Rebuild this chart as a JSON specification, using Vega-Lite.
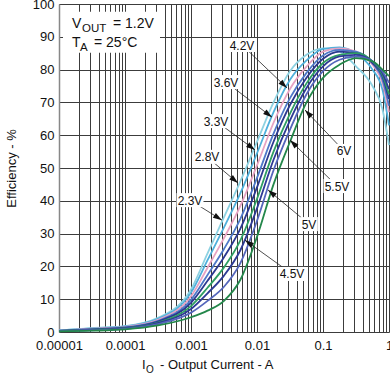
{
  "$schema": "https://vega.github.io/schema/vega-lite/v6.json",
  "width": 330,
  "height": 328,
  "autosize": {"type": "none"},
  "padding": {"left": 59, "top": 4, "right": 1, "bottom": 45},
  "background": "white",
  "config": {
    "font": "Liberation Sans",
    "view": {"stroke": null},
    "axis": {"labelFont": "Liberation Sans", "titleFont": "Liberation Sans"}
  },
  "datasets": {
    "curves": [
      {"v":"2.3V","i":0.00001,"e":0.5},{"v":"2.3V","i":0.0000316,"e":1.2},{"v":"2.3V","i":0.0001,"e":1.8},{"v":"2.3V","i":0.000316,"e":4.3},{"v":"2.3V","i":0.001,"e":13},{"v":"2.3V","i":0.00178,"e":24},{"v":"2.3V","i":0.00316,"e":35},{"v":"2.3V","i":0.00562,"e":46},{"v":"2.3V","i":0.01,"e":58},{"v":"2.3V","i":0.0178,"e":70},{"v":"2.3V","i":0.0316,"e":79.5},{"v":"2.3V","i":0.0562,"e":84.5},{"v":"2.3V","i":0.1,"e":86.5},{"v":"2.3V","i":0.178,"e":85.5},{"v":"2.3V","i":0.316,"e":81},{"v":"2.3V","i":0.562,"e":75},{"v":"2.3V","i":0.794,"e":68},{"v":"2.3V","i":1,"e":57},
      {"v":"2.8V","i":0.00001,"e":0.46},{"v":"2.8V","i":0.0000316,"e":1.1},{"v":"2.8V","i":0.0001,"e":1.7},{"v":"2.8V","i":0.000316,"e":4.0},{"v":"2.8V","i":0.001,"e":12},{"v":"2.8V","i":0.00178,"e":21.9},{"v":"2.8V","i":0.00316,"e":31.9},{"v":"2.8V","i":0.00562,"e":42.4},{"v":"2.8V","i":0.01,"e":54.5},{"v":"2.8V","i":0.0178,"e":67},{"v":"2.8V","i":0.0316,"e":76.9},{"v":"2.8V","i":0.0562,"e":82.8},{"v":"2.8V","i":0.1,"e":86.3},{"v":"2.8V","i":0.178,"e":86.8},{"v":"2.8V","i":0.316,"e":85},{"v":"2.8V","i":0.562,"e":80},{"v":"2.8V","i":0.794,"e":74},{"v":"2.8V","i":1,"e":63},
      {"v":"3.3V","i":0.00001,"e":0.42},{"v":"3.3V","i":0.0000316,"e":1.0},{"v":"3.3V","i":0.0001,"e":1.55},{"v":"3.3V","i":0.000316,"e":3.7},{"v":"3.3V","i":0.001,"e":10.9},{"v":"3.3V","i":0.00178,"e":19.6},{"v":"3.3V","i":0.00316,"e":28.6},{"v":"3.3V","i":0.00562,"e":38.5},{"v":"3.3V","i":0.01,"e":50.8},{"v":"3.3V","i":0.0178,"e":63.8},{"v":"3.3V","i":0.0316,"e":74.1},{"v":"3.3V","i":0.0562,"e":80.9},{"v":"3.3V","i":0.1,"e":85.5},{"v":"3.3V","i":0.178,"e":86.5},{"v":"3.3V","i":0.316,"e":85.5},{"v":"3.3V","i":0.562,"e":81.5},{"v":"3.3V","i":0.794,"e":76},{"v":"3.3V","i":1,"e":67},
      {"v":"3.6V","i":0.00001,"e":0.39},{"v":"3.6V","i":0.0000316,"e":0.9},{"v":"3.6V","i":0.0001,"e":1.4},{"v":"3.6V","i":0.000316,"e":3.4},{"v":"3.6V","i":0.001,"e":9.8},{"v":"3.6V","i":0.00178,"e":17.4},{"v":"3.6V","i":0.00316,"e":25.3},{"v":"3.6V","i":0.00562,"e":34.6},{"v":"3.6V","i":0.01,"e":47},{"v":"3.6V","i":0.0178,"e":60.5},{"v":"3.6V","i":0.0316,"e":71.3},{"v":"3.6V","i":0.0562,"e":79},{"v":"3.6V","i":0.1,"e":84.3},{"v":"3.6V","i":0.178,"e":86},{"v":"3.6V","i":0.316,"e":85.5},{"v":"3.6V","i":0.562,"e":82},{"v":"3.6V","i":0.794,"e":77},{"v":"3.6V","i":1,"e":69},
      {"v":"4.2V","i":0.00001,"e":0.36},{"v":"4.2V","i":0.0000316,"e":0.8},{"v":"4.2V","i":0.0001,"e":1.3},{"v":"4.2V","i":0.000316,"e":3.2},{"v":"4.2V","i":0.001,"e":8.9},{"v":"4.2V","i":0.00178,"e":15.6},{"v":"4.2V","i":0.00316,"e":22.8},{"v":"4.2V","i":0.00562,"e":31.6},{"v":"4.2V","i":0.01,"e":44.1},{"v":"4.2V","i":0.0178,"e":58},{"v":"4.2V","i":0.0316,"e":69.2},{"v":"4.2V","i":0.0562,"e":77.5},{"v":"4.2V","i":0.1,"e":83.3},{"v":"4.2V","i":0.178,"e":85.5},{"v":"4.2V","i":0.316,"e":85},{"v":"4.2V","i":0.562,"e":82},{"v":"4.2V","i":0.794,"e":78},{"v":"4.2V","i":1,"e":71},
      {"v":"4.5V","i":0.00001,"e":0.32},{"v":"4.5V","i":0.0000316,"e":0.7},{"v":"4.5V","i":0.0001,"e":1.2},{"v":"4.5V","i":0.000316,"e":2.9},{"v":"4.5V","i":0.001,"e":7.9},{"v":"4.5V","i":0.00178,"e":13.5},{"v":"4.5V","i":0.00316,"e":19.7},{"v":"4.5V","i":0.00562,"e":28},{"v":"4.5V","i":0.01,"e":40.6},{"v":"4.5V","i":0.0178,"e":55},{"v":"4.5V","i":0.0316,"e":66.6},{"v":"4.5V","i":0.0562,"e":75.8},{"v":"4.5V","i":0.1,"e":82},{"v":"4.5V","i":0.178,"e":84.5},{"v":"4.5V","i":0.316,"e":85},{"v":"4.5V","i":0.562,"e":82.5},{"v":"4.5V","i":0.794,"e":78.5},{"v":"4.5V","i":1,"e":72.5},
      {"v":"5V","i":0.00001,"e":0.29},{"v":"5V","i":0.0000316,"e":0.64},{"v":"5V","i":0.0001,"e":1.1},{"v":"5V","i":0.000316,"e":2.7},{"v":"5V","i":0.001,"e":7.0},{"v":"5V","i":0.00178,"e":11.8},{"v":"5V","i":0.00316,"e":17.2},{"v":"5V","i":0.00562,"e":25},{"v":"5V","i":0.01,"e":37.7},{"v":"5V","i":0.0178,"e":52.5},{"v":"5V","i":0.0316,"e":64.5},{"v":"5V","i":0.0562,"e":74.4},{"v":"5V","i":0.1,"e":81},{"v":"5V","i":0.178,"e":84},{"v":"5V","i":0.316,"e":84.5},{"v":"5V","i":0.562,"e":82.5},{"v":"5V","i":0.794,"e":79},{"v":"5V","i":1,"e":74},
      {"v":"5.5V","i":0.00001,"e":0.25},{"v":"5.5V","i":0.0000316,"e":0.54},{"v":"5.5V","i":0.0001,"e":0.97},{"v":"5.5V","i":0.000316,"e":2.4},{"v":"5.5V","i":0.001,"e":5.9},{"v":"5.5V","i":0.00178,"e":9.5},{"v":"5.5V","i":0.00316,"e":13.8},{"v":"5.5V","i":0.00562,"e":21.1},{"v":"5.5V","i":0.01,"e":33.9},{"v":"5.5V","i":0.0178,"e":49.3},{"v":"5.5V","i":0.0316,"e":61.7},{"v":"5.5V","i":0.0562,"e":72.5},{"v":"5.5V","i":0.1,"e":79.5},{"v":"5.5V","i":0.178,"e":83},{"v":"5.5V","i":0.316,"e":84},{"v":"5.5V","i":0.562,"e":82.5},{"v":"5.5V","i":0.794,"e":79.5},{"v":"5.5V","i":1,"e":76},
      {"v":"6V","i":0.00001,"e":0.2},{"v":"6V","i":0.0000316,"e":0.4},{"v":"6V","i":0.0001,"e":0.8},{"v":"6V","i":0.000316,"e":2.0},{"v":"6V","i":0.001,"e":4.5},{"v":"6V","i":0.00178,"e":6.5},{"v":"6V","i":0.00316,"e":9.5},{"v":"6V","i":0.00562,"e":16},{"v":"6V","i":0.01,"e":29},{"v":"6V","i":0.0178,"e":45},{"v":"6V","i":0.0316,"e":58},{"v":"6V","i":0.0562,"e":70},{"v":"6V","i":0.1,"e":77.5},{"v":"6V","i":0.178,"e":81.5},{"v":"6V","i":0.316,"e":83.5},{"v":"6V","i":0.562,"e":82.5},{"v":"6V","i":0.794,"e":80},{"v":"6V","i":1,"e":78}
    ],
    "labels": [
      {"t":"4.2V","x":0.00593,"y":87.5,"x2":0.0285,"y2":74.4},
      {"t":"3.6V","x":0.00339,"y":76.2,"x2":0.01687,"y2":65.5},
      {"t":"3.3V","x":0.00239,"y":64.3,"x2":0.00933,"y2":55.5},
      {"t":"2.8V","x":0.001746,"y":53.4,"x2":0.00515,"y2":45.4},
      {"t":"2.3V","x":0.000966,"y":40.2,"x2":0.00295,"y2":34.1},
      {"t":"6V","x":0.208,"y":55.2,"x2":0.0533,"y2":67.7},
      {"t":"5.5V","x":0.163,"y":44.5,"x2":0.0316,"y2":58.5},
      {"t":"5V","x":0.0614,"y":32.9,"x2":0.0147,"y2":43.3},
      {"t":"4.5V","x":0.0339,"y":17.7,"x2":0.00658,"y2":28.0}
    ],
    "notebox": [
      {"x":0.0000115,"x2":0.000339,"y":97.6,"y2":85.1}
    ],
    "texts": [
      {"t":"V","x":0.00001574,"y":92.68,"role":"main","group":"note"},
      {"t":"OUT","x":0.0000223,"y":91.46,"role":"sub","group":"note"},
      {"t":"= 1.2V","x":0.0000658,"y":92.68,"role":"main","group":"note"},
      {"t":"T","x":0.00001574,"y":86.89,"role":"main","group":"note"},
      {"t":"A","x":0.0000208,"y":85.82,"role":"sub","group":"note"},
      {"t":"= 25°C","x":0.0000339,"y":86.89,"role":"main","group":"note"},
      {"t":"I","x":0.000181,"y":-11.28,"role":"main","group":"axis"},
      {"t":"O","x":0.000208,"y":-12.5,"role":"sub","group":"axis"},
      {"t":"- Output Current - A","x":0.000339,"y":-11.28,"role":"main","group":"axis"}
    ]
  },
  "encoding": {
    "x": {"type": "quantitative", "scale": {"type": "log", "domain": [0.00001, 1], "nice": false},
      "axis": {
        "values": [0.00001,0.00002,0.00003,0.00004,0.00005,0.00006,0.00007,0.00008,0.00009,0.0001,0.0002,0.0003,0.0004,0.0005,0.0006,0.0007,0.0008,0.0009,0.001,0.002,0.003,0.004,0.005,0.006,0.007,0.008,0.009,0.01,0.02,0.03,0.04,0.05,0.06,0.07,0.08,0.09,0.1,0.2,0.3,0.4,0.5,0.6,0.7,0.8,0.9,1],
        "format": ".5~f",
        "labelExpr": "(datum.value==0.00001||datum.value==0.0001||datum.value==0.001||datum.value==0.01||datum.value==0.1||datum.value==1) ? datum.label : ''",
        "grid": true, "gridColor": "#3c3c3c", "gridWidth": 1, "gridOpacity": 1,
        "domain": false, "ticks": false, "tickSize": 0,
        "labelPadding": 7, "labelFontSize": 13, "labelColor": "#111", "labelOverlap": false, "labelFlush": false,
        "title": null
      }},
    "y": {"type": "quantitative", "scale": {"domain": [0, 100], "nice": false},
      "axis": {
        "values": [0,10,20,30,40,50,60,70,80,90,100],
        "grid": true, "gridColor": "#3c3c3c", "gridWidth": 1,
        "domain": true, "domainColor": "#888", "domainWidth": 1.5,
        "ticks": false, "tickSize": 0, "labelPadding": 5, "labelOverlap": false, "labelFlush": false,
        "labelFontSize": 13, "labelColor": "#111",
        "title": "Efficiency - %", "titleFontSize": 13, "titleFontWeight": "normal", "titleColor": "#111", "titlePadding": 14
      }}
  },
  "layer": [
    {
      "data": {"name": "notebox"},
      "mark": {"type": "rect", "fill": "white", "stroke": null},
      "encoding": {
        "x": {"field": "x", "type": "quantitative"},
        "x2": {"field": "x2"},
        "y": {"field": "y", "type": "quantitative"},
        "y2": {"field": "y2"}
      }
    },
    {
      "data": {"name": "curves"},
      "mark": {"type": "line", "strokeWidth": 1.8, "interpolate": "monotone"},
      "encoding": {
        "x": {"field": "i", "type": "quantitative"},
        "y": {"field": "e", "type": "quantitative"},
        "color": {"field": "v", "type": "nominal", "legend": null,
          "scale": {"domain": ["2.3V","2.8V","3.3V","3.6V","4.2V","4.5V","5V","5.5V","6V"],
                    "range": ["#8ed2e2","#4fb0dc","#e6a3c3","#4f78c8","#2b3990","#2f9e63","#2d3a94","#5566bb","#23874a"]}}
      }
    },
    {
      "data": {"name": "labels"},
      "mark": {"type": "rule", "color": "#222", "strokeWidth": 0.8},
      "encoding": {
        "x": {"field": "x", "type": "quantitative"},
        "y": {"field": "y", "type": "quantitative"},
        "x2": {"field": "x2"},
        "y2": {"field": "y2"}
      }
    },
    {
      "data": {"name": "labels"},
      "mark": {"type": "point", "filled": true, "color": "white", "opacity": 1, "strokeWidth": 0},
      "encoding": {
        "x": {"field": "x", "type": "quantitative"},
        "y": {"field": "y", "type": "quantitative"},
        "shape": {"condition": {"test": "length(datum.t) < 3", "value": "M-0.65,-0.52H0.65V0.52H-0.65Z"}, "value": "M-1,-0.52H1V0.52H-1Z"},
        "size": {"value": 729}
      }
    },
    {
      "data": {"name": "labels"},
      "mark": {"type": "text", "fontSize": 12, "color": "#111", "align": "center", "baseline": "middle", "dy": 0.5},
      "encoding": {
        "x": {"field": "x", "type": "quantitative"},
        "y": {"field": "y", "type": "quantitative"},
        "text": {"field": "t"}
      }
    },
    {
      "data": {"name": "labels"},
      "transform": [
        {"calculate": "atan2(66*(log(datum.x2)-log(datum.x))/LN10, 3.28*(datum.y2-datum.y))*180/PI", "as": "ang"}
      ],
      "mark": {"type": "point", "filled": true, "color": "#111", "opacity": 1, "shape": "M0,0L-0.6,1.9L0.6,1.9Z", "size": 90},
      "encoding": {
        "x": {"field": "x2", "type": "quantitative"},
        "y": {"field": "y2", "type": "quantitative"},
        "angle": {"field": "ang", "type": "quantitative", "scale": null}
      }
    },
    {
      "data": {"name": "texts"},
      "transform": [{"filter": "datum.group == 'note' && datum.role == 'main'"}],
      "mark": {"type": "text", "fontSize": 14, "color": "#111", "align": "left", "baseline": "alphabetic"},
      "encoding": {
        "x": {"field": "x", "type": "quantitative"},
        "y": {"field": "y", "type": "quantitative"},
        "text": {"field": "t"}
      }
    },
    {
      "data": {"name": "texts"},
      "transform": [{"filter": "datum.group == 'note' && datum.role == 'sub'"}],
      "mark": {"type": "text", "fontSize": 11.5, "color": "#111", "align": "left", "baseline": "alphabetic"},
      "encoding": {
        "x": {"field": "x", "type": "quantitative"},
        "y": {"field": "y", "type": "quantitative"},
        "text": {"field": "t"}
      }
    },
    {
      "data": {"name": "texts"},
      "transform": [{"filter": "datum.group == 'axis' && datum.role == 'main'"}],
      "mark": {"type": "text", "fontSize": 13, "color": "#111", "align": "left", "baseline": "alphabetic"},
      "encoding": {
        "x": {"field": "x", "type": "quantitative"},
        "y": {"field": "y", "type": "quantitative"},
        "text": {"field": "t"}
      }
    },
    {
      "data": {"name": "texts"},
      "transform": [{"filter": "datum.group == 'axis' && datum.role == 'sub'"}],
      "mark": {"type": "text", "fontSize": 10, "color": "#111", "align": "left", "baseline": "alphabetic"},
      "encoding": {
        "x": {"field": "x", "type": "quantitative"},
        "y": {"field": "y", "type": "quantitative"},
        "text": {"field": "t"}
      }
    }
  ]
}
